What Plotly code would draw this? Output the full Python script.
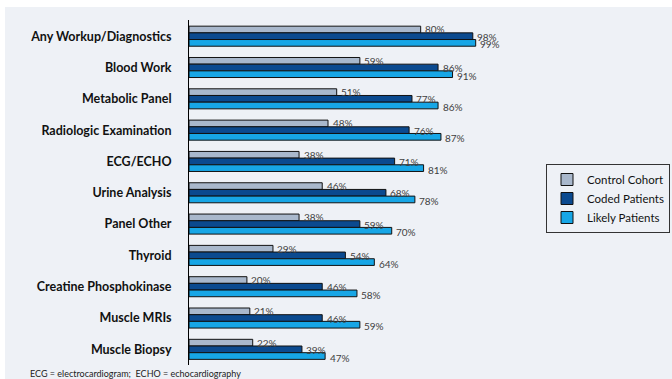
import plotly.graph_objects as go

categories = ["Any Workup/Diagnostics", "Blood Work", "Metabolic Panel", "Radiologic Examination",
              "ECG/ECHO", "Urine Analysis", "Panel Other", "Thyroid",
              "Creatine Phosphokinase", "Muscle MRIs", "Muscle Biopsy"]
control = [80, 59, 51, 48, 38, 46, 38, 29, 20, 21, 22]
coded = [98, 86, 77, 76, 71, 68, 59, 54, 46, 46, 39]
likely = [99, 91, 86, 87, 81, 78, 70, 64, 58, 59, 47]
series_names = ["Control Cohort", "Coded Patients", "Likely Patients"]
colors = ["#a9b8cc", "#0b4a8f", "#17a6e6"]

W, H = 672, 379
L, R, T, B = 189, 121, 20, 14
pw, ph = W - L - R, H - T - B
PANEL = "#eef1f6"

def px(x):
    return (x - L) / pw

def py(y):
    return (H - B - y) / ph

FONT = "Lato"
fig = go.Figure()
annotations = []
bar_px = ph / len(categories) * 0.64 / 3
label_drop = [0, 0.5, 1.5]
for k, (name, vals, c) in enumerate(zip(series_names, [control, coded, likely], colors)):
    fig.add_trace(go.Bar(
        y=categories, x=[v / 100 for v in vals], name=name, orientation="h",
        marker=dict(color=c, line=dict(color="#111111", width=1)),
    ))
    for cat, v in zip(categories, vals):
        annotations.append(dict(
            text=f"{v}%", x=v / 100, y=cat, xref="x", yref="y",
            xanchor="left", yanchor="middle", showarrow=False,
            xshift=2.5, yshift=(1 - k) * bar_px - label_drop[k],
            font=dict(size=10, family=FONT, color="#404040"),
        ))

annotations += [
    dict(text="ECG = electrocardiogram;  ECHO = echocardiography", xref="paper", yref="paper",
         x=px(28), y=py(373), xanchor="left", yanchor="middle", showarrow=False,
         font=dict(size=9, family=FONT, color="#222222")),
    dict(text="<b>Figure 2: Proportion of Patients Undergoing Workup/Diagnostic Tests, by Patient Cohort</b>",
         xref="paper", yref="paper", x=px(20), y=py(2), xanchor="left", yanchor="bottom",
         showarrow=False, font=dict(size=12, family=FONT, color="#f7941d")),
]

fig.update_layout(
    width=W, height=H,
    margin=dict(l=L, r=R, t=T, b=B, autoexpand=False),
    paper_bgcolor=PANEL, plot_bgcolor="rgba(0,0,0,0)",
    barmode="group", bargap=0.36, bargroupgap=0,
    font=dict(family=FONT, color="#111111"),
    xaxis=dict(range=[0, 1.25], visible=False),
    yaxis=dict(autorange="reversed", showline=True, linecolor="#000000", linewidth=1,
               showgrid=False, ticks="", ticklabelstandoff=14, automargin=False,
               tickfont=dict(size=12.5, family=FONT, color="#111111", weight="bold")),
    legend=dict(x=px(546), y=py(164), xanchor="left", yanchor="top",
                bgcolor=PANEL, bordercolor="#333333", borderwidth=1,
                font=dict(size=11.5, family=FONT, color="#111111"),
                itemwidth=30, tracegroupgap=0),
    showlegend=True,
    shapes=[
        dict(type="rect", xref="paper", yref="paper", layer="above",
             x0=px(0), x1=px(W), y0=py(7), y1=py(0), fillcolor="white", line=dict(width=0)),
        dict(type="rect", xref="paper", yref="paper", layer="above",
             x0=px(0), x1=px(5), y0=py(H), y1=py(0), fillcolor="white", line=dict(width=0)),
    ],
    annotations=annotations,
)

fig.write_html("out.html")
